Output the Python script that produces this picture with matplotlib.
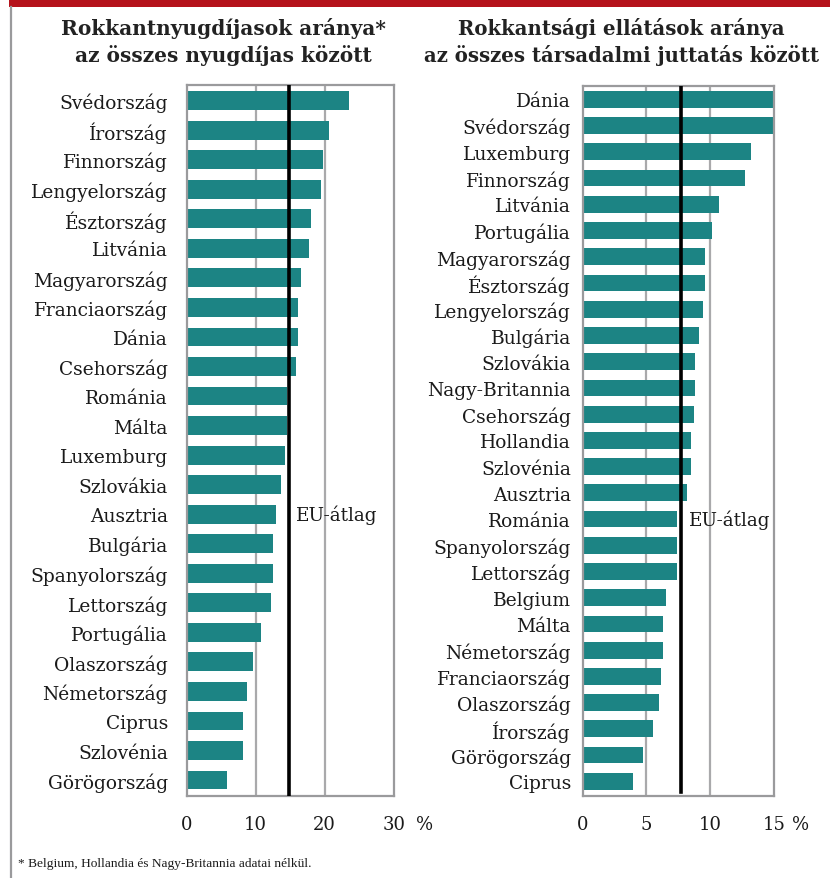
import matplotlib
matplotlib.use("Agg")
import matplotlib.pyplot as plt
from matplotlib.patches import Rectangle
from matplotlib.lines import Line2D

# ---- data ----
left_countries = ["Svédország", "Írország", "Finnország", "Lengyelország", "Észtország",
                  "Litvánia", "Magyarország", "Franciaország", "Dánia", "Csehország",
                  "Románia", "Málta", "Luxemburg", "Szlovákia", "Ausztria", "Bulgária",
                  "Spanyolország", "Lettország", "Portugália", "Olaszország",
                  "Németország", "Ciprus", "Szlovénia", "Görögország"]
left_values = [23.5, 20.6, 19.7, 19.4, 18.0, 17.7, 16.5, 16.2, 16.2, 15.9,
               14.6, 14.6, 14.2, 13.6, 13.0, 12.5, 12.5, 12.2, 10.7, 9.6,
               8.7, 8.1, 8.1, 5.8]
left_eu = 14.8
left_ticks = [0, 10, 20, 30]

right_countries = ["Dánia", "Svédország", "Luxemburg", "Finnország", "Litvánia",
                   "Portugália", "Magyarország", "Észtország", "Lengyelország",
                   "Bulgária", "Szlovákia", "Nagy-Britannia", "Csehország", "Hollandia",
                   "Szlovénia", "Ausztria", "Románia", "Spanyolország", "Lettország",
                   "Belgium", "Málta", "Németország", "Franciaország", "Olaszország",
                   "Írország", "Görögország", "Ciprus"]
right_values = [15.2, 15.1, 13.2, 12.7, 10.7, 10.1, 9.6, 9.6, 9.4, 9.1, 8.8, 8.8,
                8.7, 8.5, 8.5, 8.2, 7.4, 7.4, 7.4, 6.5, 6.3, 6.3, 6.15, 6.0,
                5.5, 4.7, 3.95]
right_eu = 7.7
right_ticks = [0, 5, 10, 15]

title_left = ["Rokkantnyugdíjasok aránya*", "az összes nyugdíjas között"]
title_right = ["Rokkantsági ellátások aránya", "az összes társadalmi juttatás között"]
footnote = "* Belgium, Hollandia és Nagy-Britannia adatai nélkül."
eu_label = "EU-átlag"

# ---- style ----
BAR = "#1c8484"
GRID = "#a9a9ab"
SPINE = "#9a9a9c"
SERIF = "DejaVu Serif"
TXT = "#1a1a1a"

W, H = 830, 879
fig = plt.figure(figsize=(W / 100, H / 100), dpi=100)

def px_axes(x0, x1, ytop, ybot):
    return fig.add_axes([x0 / W, 1 - ybot / H, (x1 - x0) / W, (ybot - ytop) / H])

def panel(ax, cats, vals, eu, ticks, xmax, ylim, pad, eu_text_xy, eu_ymin, pct_dx):
    n = len(cats)
    y = list(range(n))
    ax.barh(y, vals, height=0.64, color=BAR, zorder=2)
    ax.set_xlim(0, xmax)
    ax.set_ylim(ylim[1], ylim[0])
    ax.set_yticks(y)
    ax.set_yticklabels(cats, family=SERIF, fontsize=13.4, color=TXT)
    ax.set_xticks(ticks)
    ax.set_xticklabels([str(t) for t in ticks], family=SERIF, fontsize=13, color=TXT)
    ax.tick_params(axis="both", length=0)
    ax.tick_params(axis="y", pad=pad)
    ax.tick_params(axis="x", pad=14)
    for t in ticks[1:-1]:
        ax.axvline(t, color=GRID, lw=1.6, zorder=1)
    for s in ax.spines.values():
        s.set_color(SPINE)
        s.set_linewidth(1.6)
    ax.axvline(eu, color="black", lw=2.6, zorder=3, ymin=eu_ymin)
    ax.text(eu_text_xy[0], eu_text_xy[1], eu_label, family=SERIF, fontsize=13.2,
            color=TXT, va="center", ha="left", zorder=4)
    # percent sign after last tick label, aligned with tick labels
    ax.annotate("%", xy=(1, 0), xycoords="axes fraction", xytext=(pct_dx, -14),
                textcoords="offset points", family=SERIF, fontsize=13,
                color=TXT, ha="left", va="top", annotation_clip=False)

axL = px_axes(186.7, 393.7, 86, 796.7)
panel(axL, left_countries, left_values, left_eu, left_ticks, 30,
      (-0.53, 23.53), 13.5, (15.8, 14), 0.0, 16)

axR = px_axes(582.7, 774, 87.3, 796.7)
panel(axR, right_countries, right_values, right_eu, right_ticks, 15,
      (-0.5, 26.55), 8.5, (8.3, 16), 0.005, 13)

# titles
for lines, cx, fs in ((title_left, 223.5, 14.5), (title_right, 621.5, 14.25)):
    for line, yb in zip(lines, (35, 62.5)):
        fig.text(cx / W, 1 - yb / H, line, family=SERIF, fontweight="bold",
                 fontsize=fs, color="#222222", ha="center", va="baseline")

# footnote
fig.text(18 / W, 1 - 867 / H, footnote, family="Liberation Serif", fontsize=9.6,
         color=TXT, ha="left", va="baseline")

# decorative frame: red top bar and grey left rule
fig.add_artist(Rectangle((9 / W, 1 - 7.5 / H), 1 - 9 / W, 7.5 / H,
                         transform=fig.transFigure, color="#b5121b", lw=0))
fig.add_artist(Line2D([11 / W, 11 / W], [0, 1 - 7.5 / H], transform=fig.transFigure,
                      color="#9a9a9c", lw=1.6))

fig.savefig("out.png", dpi=100)
